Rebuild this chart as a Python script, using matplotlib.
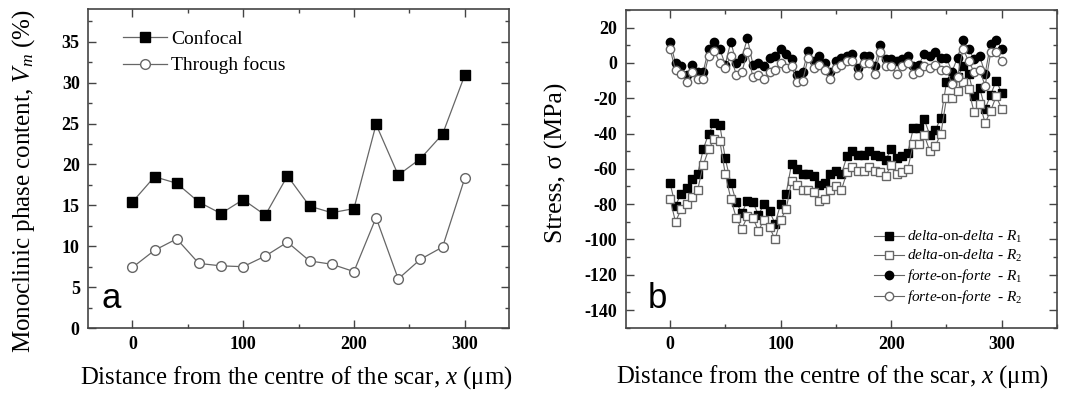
import numpy as np
import matplotlib
matplotlib.use('Agg')
import matplotlib.pyplot as plt
from matplotlib.ticker import MultipleLocator

plt.rcParams['font.family'] = 'Liberation Serif'
plt.rcParams['mathtext.fontset'] = 'custom'
plt.rcParams['mathtext.rm'] = 'Liberation Serif'
plt.rcParams['mathtext.it'] = 'Liberation Serif:italic'
plt.rcParams['mathtext.bf'] = 'Liberation Serif:bold'
plt.rcParams['axes.unicode_minus'] = False

# panel a data
x_a = [0, 20, 40, 60, 80, 100, 120, 140, 160, 180, 200, 220, 240, 260, 280, 300]
confocal = [15.4, 18.5, 17.7, 15.4, 14.0, 15.7, 13.8, 18.6, 14.9, 14.1, 14.6, 24.9, 18.7, 20.7, 23.7, 30.9]
through_focus = [7.4, 9.5, 10.9, 7.9, 7.6, 7.5, 8.8, 10.5, 8.2, 7.8, 6.9, 13.5, 6.0, 8.4, 9.9, 18.3]

# panel b data
x_b = list(range(0, 301, 5))
delta_r1 = [-68, -81, -74, -71, -66, -63, -49, -40, -34, -35, -54, -68, -79, -85, -78, -79,
            -86, -80, -84, -91, -80, -74, -57, -60, -63, -63, -64, -69, -68, -63, -61, -63,
            -53, -50, -52, -52, -50, -52, -53, -55, -49, -54, -53, -51, -37, -37, -32, -41,
            -38, -31, -11, -10, -8, -2, -6, -19, -14, -26, -18, -10, -17]
delta_r2 = [-77, -90, -83, -80, -76, -72, -58, -49, -43, -44, -63, -77, -88, -94, -87, -88,
            -95, -89, -93, -100, -89, -83, -67, -69, -72, -72, -73, -78, -77, -72, -70, -72,
            -62, -59, -61, -61, -59, -61, -62, -64, -58, -63, -62, -60, -46, -46, -41, -50,
            -47, -40, -20, -20, -16, -11, -15, -28, -23, -34, -27, -19, -26]
forte_r1 = [12, 0, -2, -7, -1, -5, -5, 8, 12, 8, -1, 12, 0, 3, 14, -1,
            0, -2, 3, 4, 8, 5, 2, -7, -5, 7, 1, 4, 0, -5, 1, 3,
            4, 5, -3, 4, 4, -2, 10, 2, 2, 1, 2, 4, -2, -1, 5, 4,
            6, 3, 3, -5, 3, 13, 8, 2, 4, -6, 11, 13, 8]
forte_r2 = [8, -4, -6, -11, -5, -9, -9, 4, 7, 0, -3, 4, -7, -5, 6, -8,
            -7, -9, -5, -4, 0, -3, -2, -11, -10, 3, -3, -1, -4, -9, -3, -1,
            1, 1, -7, 0, 0, -6, 6, -2, -2, -6, -2, 0, -6, -5, -2, -3,
            -1, -4, -4, -12, -8, 8, 1, -5, -4, -13, 6, 6, 1]

lc = '#666666'
fig = plt.figure(figsize=(10.66, 3.95), dpi=100)
ax1 = fig.add_axes([0.0826, 0.1696, 0.3949, 0.8074])
ax2 = fig.add_axes([0.587, 0.1704, 0.4046, 0.8043])

ax1.plot(x_a, confocal, color=lc, lw=0.9, marker='s', ms=7, mfc='black', mec='black', label='Confocal')
ax1.plot(x_a, through_focus, color=lc, lw=0.9, marker='o', ms=7, mfc='white', mec=lc, label='Through focus')
ax1.set_xlim(-40, 340)
ax1.set_ylim(0, 39)
ax1.xaxis.set_major_locator(MultipleLocator(100))
ax1.xaxis.set_minor_locator(MultipleLocator(50))
ax1.yaxis.set_major_locator(MultipleLocator(5))
ax1.yaxis.set_minor_locator(MultipleLocator(2.5))
ax1.set_ylabel('Monoclinic phase content, $V_m$ (%)', fontsize=18)
ax1.yaxis.set_label_coords(-0.121, 0.46)
ax1.set_xlabel('Distance from the centre of the scar, $x$ (μm)', fontsize=17.8)
ax1.xaxis.set_label_coords(0.494, -0.113)
ax1.legend(loc='upper left', bbox_to_anchor=(0.064, 0.958), frameon=False, fontsize=14,
           handlelength=2.3, handletextpad=0.2, borderaxespad=0, labelspacing=0.45)
ax1.text(0.033, 0.063, 'a', transform=ax1.transAxes, fontsize=25, family='Liberation Sans')

ax2.plot(x_b, delta_r1, color=lc, lw=0.8, marker='s', ms=5.5, mfc='black', mec='black',
         label=r'$\it{delta}$-on-$\it{delta}$ - $\it{R}_1$')
ax2.plot(x_b, delta_r2, color=lc, lw=0.8, marker='s', ms=5.5, mfc='white', mec=lc,
         label=r'$\it{delta}$-on-$\it{delta}$ - $\it{R}_2$')
ax2.plot(x_b, forte_r1, color=lc, lw=0.8, marker='o', ms=6, mfc='black', mec='black',
         label=r'$\it{forte}$-on-$\it{forte}$  - $\it{R}_1$')
ax2.plot(x_b, forte_r2, color=lc, lw=0.8, marker='o', ms=6, mfc='white', mec=lc,
         label=r'$\it{forte}$-on-$\it{forte}$  - $\it{R}_2$')
ax2.set_xlim(-40, 350)
ax2.set_ylim(-150, 30)
ax2.xaxis.set_major_locator(MultipleLocator(100))
ax2.xaxis.set_minor_locator(MultipleLocator(50))
ax2.yaxis.set_major_locator(MultipleLocator(20))
ax2.yaxis.set_minor_locator(MultipleLocator(10))
ax2.set_ylabel('Stress, σ (MPa)', fontsize=18.5)
ax2.yaxis.set_label_coords(-0.134, 0.518)
ax2.set_xlabel('Distance from the centre of the scar, $x$ (μm)', fontsize=17.8)
ax2.xaxis.set_label_coords(0.479, -0.113)
ax2.legend(loc='lower right', bbox_to_anchor=(0.935, 0.048), frameon=False, fontsize=11,
           handlelength=2.0, handletextpad=0.2, borderaxespad=0, labelspacing=0.2)
ax2.text(0.052, 0.062, 'b', transform=ax2.transAxes, fontsize=25, family='Liberation Sans')

for ax in (ax1, ax2):
    ax.tick_params(which='both', direction='in', top=True, right=True, width=1.0, color='#444444')
    ax.tick_params(which='major', length=6, labelsize=13, pad=6)
    ax.tick_params(which='minor', length=3)
    for lab in ax.get_xticklabels() + ax.get_yticklabels():
        lab.set_fontweight('bold')
    for s in ax.spines.values():
        s.set_linewidth(1.2)
        s.set_color('#444444')

fig.savefig('out.png', dpi=100)
